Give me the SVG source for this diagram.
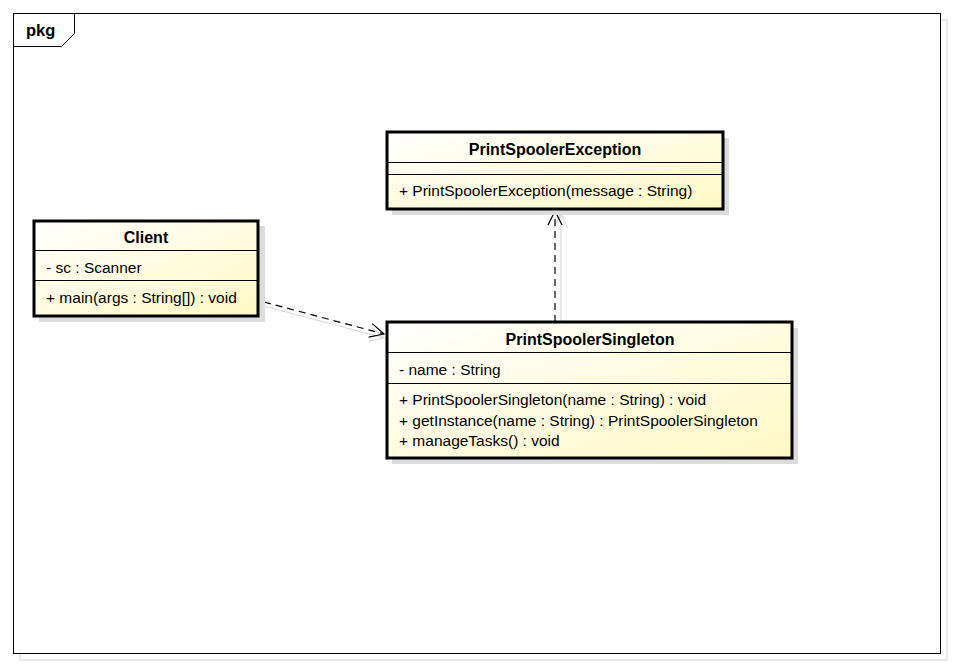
<svg xmlns="http://www.w3.org/2000/svg" width="953" height="666" viewBox="0 0 953 666">
  <defs>
    <linearGradient id="classFill" x1="0" y1="0" x2="1" y2="1">
      <stop offset="0" stop-color="#ffffff"/>
      <stop offset="1" stop-color="#fff8c4"/>
    </linearGradient>
    <marker id="openArrow" viewBox="0 0 16 16" refX="15" refY="8" markerWidth="16" markerHeight="16" markerUnits="userSpaceOnUse" orient="auto">
      <path d="M1,1 L15,8 L1,15" fill="none" stroke="#000" stroke-width="1.2"/>
    </marker>
    <marker id="openArrowShadow" viewBox="0 0 16 16" refX="15" refY="8" markerWidth="16" markerHeight="16" markerUnits="userSpaceOnUse" orient="auto">
      <path d="M1,1 L15,8 L1,15" fill="none" stroke="#d8d8d8" stroke-width="1.2"/>
    </marker>
  </defs>
  <style>
    .shadow { fill: #dcdcdc; }
    .box { fill: url(#classFill); stroke: #000; stroke-width: 3; }
    .sep { stroke: #000; stroke-width: 1; }
    .title { font-family: "Liberation Sans", Arial, sans-serif; font-size: 16px; font-weight: bold; text-anchor: middle; fill: #000; }
    .member { font-family: "Liberation Sans", Arial, sans-serif; font-size: 15.5px; fill: #000; }
    .dep { fill: none; stroke: #000; stroke-width: 1.2; stroke-dasharray: 7 5; }
    .depShadow { fill: none; stroke: #d8d8d8; stroke-width: 1.2; }
  </style>

  <rect width="953" height="666" fill="#ffffff"/>

  <!-- package frame -->
  <g id="pkg">
    <rect x="20" y="20" width="927" height="640" fill="none" stroke="#e4e4e4" stroke-width="1.5"/>
    <rect x="13.5" y="13.5" width="927" height="640" fill="#ffffff" stroke="#000" stroke-width="1"/>
    <path d="M13.5,46.5 L61.5,46.5 L74.5,33.5 L74.5,13.5" fill="none" stroke="#000" stroke-width="1"/>
    <text x="26" y="36" font-family="Liberation Sans, Arial, sans-serif" font-size="16.5" font-weight="bold">pkg</text>
  </g>

  <!-- connectors -->
  <g id="connectors">
    <line x1="264" y1="306" x2="384" y2="338" class="depShadow" marker-end="url(#openArrowShadow)"/>
    <line x1="561" y1="325" x2="561" y2="214" class="depShadow" marker-end="url(#openArrowShadow)"/>
    <line x1="264" y1="302" x2="384" y2="334" class="dep" marker-end="url(#openArrow)"/>
    <line x1="555" y1="322" x2="555" y2="211" class="dep" marker-end="url(#openArrow)"/>
  </g>

  <!-- Client -->
  <g id="Client">
    <rect x="39" y="226" width="226" height="96" class="shadow"/>
    <rect x="34" y="221" width="224" height="95" class="box"/>
    <line x1="34" y1="250.5" x2="258" y2="250.5" class="sep"/>
    <line x1="34" y1="280.5" x2="258" y2="280.5" class="sep"/>
    <text x="146" y="243" class="title">Client</text>
    <text x="46" y="273" class="member">- sc : Scanner</text>
    <text x="46" y="303" class="member">+ main(args : String[]) : void</text>
  </g>

  <!-- PrintSpoolerException -->
  <g id="PrintSpoolerException">
    <rect x="392" y="138" width="337" height="77" class="shadow"/>
    <rect x="387" y="132" width="336" height="77" class="box"/>
    <line x1="387" y1="162.5" x2="723" y2="162.5" class="sep"/>
    <line x1="387" y1="174.5" x2="723" y2="174.5" class="sep"/>
    <text x="555" y="155" class="title">PrintSpoolerException</text>
    <text x="399" y="196" class="member">+ PrintSpoolerException(message : String)</text>
  </g>

  <!-- PrintSpoolerSingleton -->
  <g id="PrintSpoolerSingleton">
    <rect x="392" y="328" width="406" height="136" class="shadow"/>
    <rect x="387" y="322" width="405" height="136" class="box"/>
    <line x1="387" y1="352.5" x2="792" y2="352.5" class="sep"/>
    <line x1="387" y1="383.5" x2="792" y2="383.5" class="sep"/>
    <text x="590" y="345" class="title">PrintSpoolerSingleton</text>
    <text x="399" y="375" class="member">- name : String</text>
    <text x="399" y="405" class="member">+ PrintSpoolerSingleton(name : String) : void</text>
    <text x="399" y="426" class="member">+ getInstance(name : String) : PrintSpoolerSingleton</text>
    <text x="399" y="446" class="member">+ manageTasks() : void</text>
  </g>
</svg>
